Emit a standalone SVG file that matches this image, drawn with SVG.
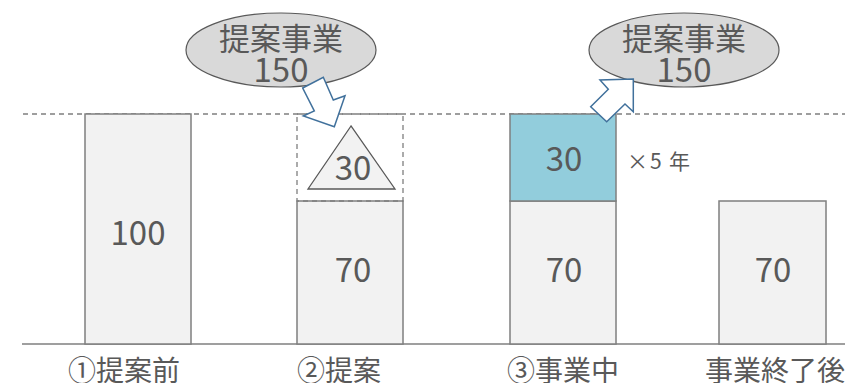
<svg xmlns="http://www.w3.org/2000/svg" width="845" height="383" viewBox="0 0 845 383">
<style>
.bar{fill:#F2F2F2;stroke:#7F7F7F;stroke-width:1.5}
.teal{fill:#92CDDC;stroke:#7F7F7F;stroke-width:1.5}
.dash{fill:none;stroke:#7F7F7F;stroke-width:1.3;stroke-dasharray:5 4}
.ell{fill:#D9D9D9;stroke:#595959;stroke-width:1.2}
.arr{fill:#FFFFFF;stroke:#41719C;stroke-width:1.5;stroke-linejoin:miter}
.tri{fill:#F2F2F2;stroke:#595959;stroke-width:1.3}
text{font-family:"Noto Sans CJK JP","Noto Sans",sans-serif;fill:#595959}
.num{font-size:33px;text-anchor:middle}
.lbl{font-size:28px}
.bub{font-size:31px;text-anchor:middle}
</style>
<rect width="845" height="383" fill="#FFFFFF"/>
<g id="guides">
<line class="dash" x1="23" y1="114" x2="845" y2="114"/>
<line x1="22" y1="344" x2="845" y2="344" stroke="#7F7F7F" stroke-width="1.5"/>
</g>
<g id="bar1">
<rect class="bar" x="85" y="114" width="106" height="230"/>
<text class="num" x="138" y="245">100</text>
</g>
<g id="bar2">
<rect class="bar" x="297" y="201" width="106" height="143"/>
<rect class="dash" x="297" y="114" width="106" height="87"/>
<text class="num" x="353" y="282">70</text>
</g>
<g id="triangle">
<polygon class="tri" points="351,126 308,189 395,189"/>
<text class="num" x="353" y="180">30</text>
</g>
<g id="bar3">
<rect class="bar" x="510" y="201" width="106" height="143"/>
<rect class="teal" x="510" y="114" width="106" height="87"/>
<text class="num" x="564" y="171">30</text>
<text class="num" x="564" y="282">70</text>
</g>
<g id="bar4">
<rect class="bar" x="719" y="201" width="107" height="143"/>
<text class="num" x="773" y="282">70</text>
</g>
<g id="times">
<text style="font-size:21px"><tspan x="627" y="169">×</tspan><tspan x="650" y="169">5</tspan><tspan x="669" y="169">年</tspan></text>
</g>
<g id="bubble1">
<ellipse class="ell" cx="281" cy="50" rx="95" ry="37"/>
<text class="bub" x="281" y="50">提案事業</text>
<text class="num" x="281" y="82">150</text>
</g>
<g id="bubble2">
<ellipse class="ell" cx="684" cy="50" rx="95" ry="37"/>
<text class="bub" x="684" y="50">提案事業</text>
<text class="num" x="684" y="82">150</text>
</g>
<g id="connectors">
<polygon class="arr" points="302.7,88 323.3,77.3 333.3,100 345,95.7 334.3,126.7 303.3,116 314.3,111"/>
<polygon class="arr" points="633.3,79 600,80 608.3,89.3 590.7,106.7 606.7,121.7 625,104 633.3,111.7"/>
</g>
<g id="labels">
<text class="lbl" x="68" y="381">①提案前</text>
<text class="lbl" x="297" y="381">②提案</text>
<text class="lbl" x="507" y="381">③事業中</text>
<text class="lbl" x="705" y="381">事業終了後</text>
</g>
</svg>
